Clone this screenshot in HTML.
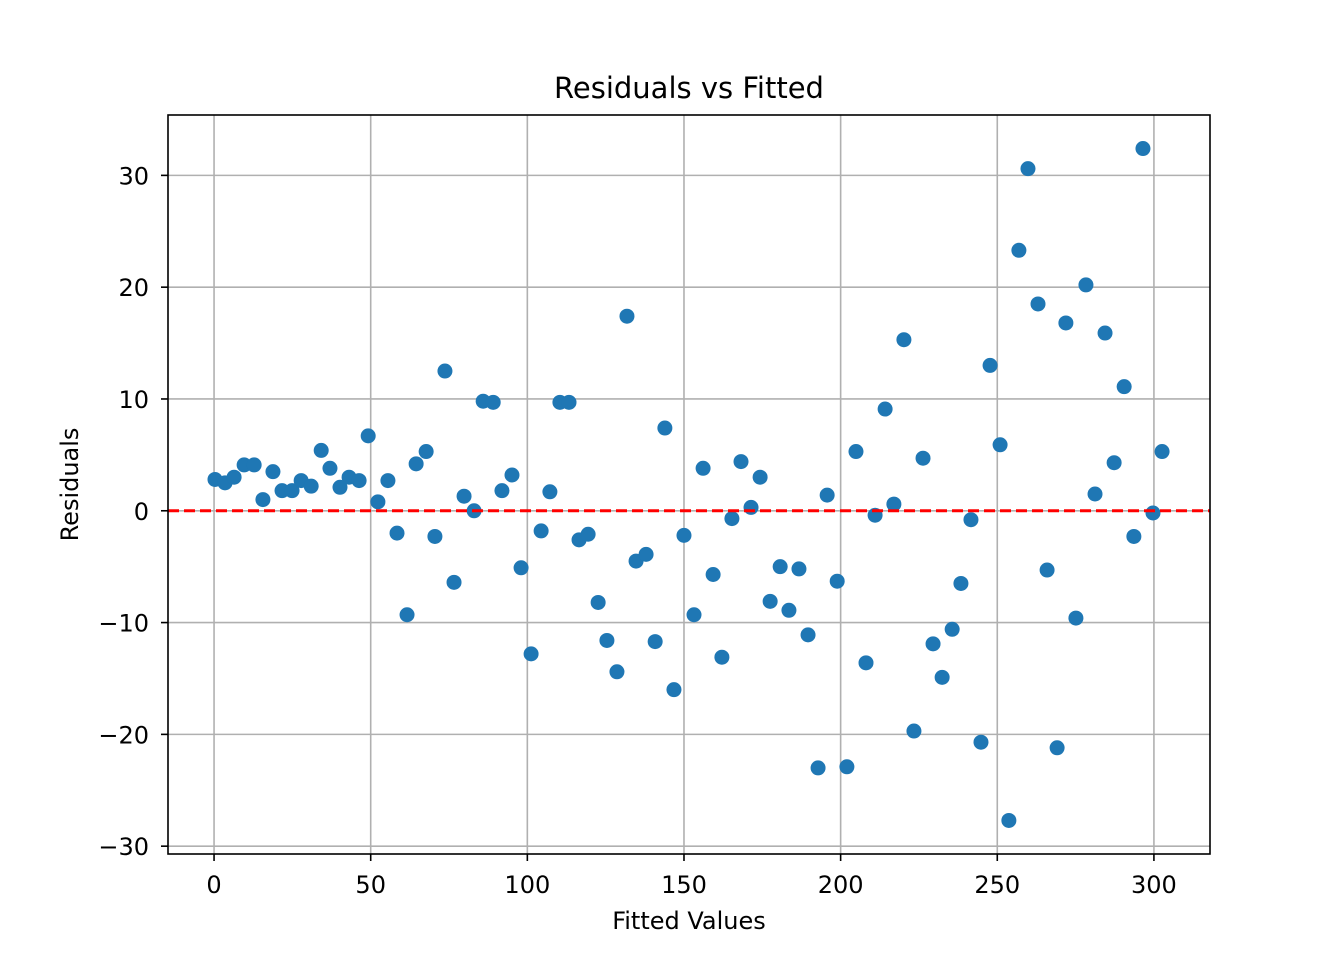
<!DOCTYPE html>
<html><head><meta charset="utf-8"><style>body{margin:0;background:#fff}svg{display:block;font-family:"DejaVu Sans","Liberation Sans",sans-serif}</style></head>
<body>
<svg id="chart" width="1344" height="960" xmlns="http://www.w3.org/2000/svg"></svg>
<script>
const fitted=[0.3,3.5,6.4,9.6,12.8,15.6,18.8,21.7,24.9,27.8,31.0,34.2,37.0,40.2,43.1,46.3,49.2,52.3,55.5,58.4,61.6,64.5,67.7,70.5,73.7,76.6,79.8,83.0,85.9,89.1,91.9,95.1,98.0,101.2,104.4,107.2,110.4,113.3,116.5,119.4,122.6,125.4,128.6,131.8,134.7,137.9,140.8,143.9,146.8,150.0,153.2,156.1,159.3,162.1,165.3,168.2,171.4,174.3,177.5,180.7,183.5,186.7,189.6,192.8,195.7,198.9,202.0,204.9,208.1,211.0,214.2,217.0,220.2,223.4,226.3,229.5,232.4,235.6,238.4,241.6,244.8,247.7,250.9,253.7,256.9,259.8,263.0,265.9,269.1,271.9,275.1,278.3,281.2,284.4,287.3,290.5,293.6,296.5,299.7,302.6];
const residuals=[2.8,2.5,3.0,4.1,4.1,1.0,3.5,1.8,1.8,2.7,2.2,5.4,3.8,2.1,3.0,2.7,6.7,0.8,2.7,-2.0,-9.3,4.2,5.3,-2.3,12.5,-6.4,1.3,0,9.8,9.7,1.8,3.2,-5.1,-12.8,-1.8,1.7,9.7,9.7,-2.6,-2.1,-8.2,-11.6,-14.4,17.4,-4.5,-3.9,-11.7,7.4,-16.0,-2.2,-9.3,3.8,-5.7,-13.1,-0.7,4.4,0.3,3.0,-8.1,-5.0,-8.9,-5.2,-11.1,-23.0,1.4,-6.3,-22.9,5.3,-13.6,-0.4,9.1,0.6,15.3,-19.7,4.7,-11.9,-14.9,-10.6,-6.5,-0.8,-20.7,13.0,5.9,-27.7,23.3,30.6,18.5,-5.3,-21.2,16.8,-9.6,20.2,1.5,15.9,4.3,11.1,-2.3,32.4,-0.2,5.3];
const xTicks=[0,50,100,150,200,250,300];
const yTicks=[-30,-20,-10,0,10,20,30];
const yTickLabels=["\u221230","\u221220","\u221210","0","10","20","30"];
const L=168,R=1210,T=115,B=854;
const xMin=-14.7,xMax=317.9,yMin=-30.7,yMax=35.4;
const sx=v=>L+(v-xMin)/(xMax-xMin)*(R-L);
const sy=v=>B-(v-yMin)/(yMax-yMin)*(B-T);
const svg=document.getElementById('chart');
const NS='http://www.w3.org/2000/svg';
function mk(tag,attrs,parent){const e=document.createElementNS(NS,tag);for(const k in attrs)e.setAttribute(k,attrs[k]);(parent||svg).appendChild(e);return e;}
const grid=mk('g',{});


xTicks.forEach(t=>{
  const x=sx(t);
  const g=mk('line',{x1:x,x2:x,y1:T,y2:B,stroke:'#b0b0b0','stroke-width':1.6},grid);
  
  
  const tk=mk('line',{x1:x,x2:x,y1:B,y2:B+7,stroke:'#000','stroke-width':1.6});
  
  
  const tx=mk('text',{x:x,y:893,'text-anchor':'middle','font-size':24});
  tx.textContent=t;
  
  
});
yTicks.forEach((t,i)=>{
  const y=sy(t);
  const g=mk('line',{x1:L,x2:R,y1:y,y2:y,stroke:'#b0b0b0','stroke-width':1.6},grid);
  
  
  const tk=mk('line',{x1:L-7,x2:L,y1:y,y2:y,stroke:'#000','stroke-width':1.6});
  
  
  const tx=mk('text',{x:149,y:y+9,'text-anchor':'end','font-size':24});
  tx.textContent=yTickLabels[i];
  
  
});
const pts=mk('g',{});


fitted.forEach((f,i)=>{
  const c=mk('circle',{cx:sx(f),cy:sy(residuals[i]),r:7.5,fill:'#1f77b4'},pts);
  
  
});
const zl=mk('line',{x1:L,x2:R,y1:sy(0),y2:sy(0),stroke:'#ff0000','stroke-width':3,'stroke-dasharray':'11,5'});


const fr=mk('rect',{x:L,y:T,width:R-L,height:B-T,fill:'none',stroke:'#000','stroke-width':1.6});


const ti=mk('text',{x:(L+R)/2,y:98,'text-anchor':'middle','font-size':29});
ti.textContent='Residuals vs Fitted';


const xl=mk('text',{x:(L+R)/2,y:929,'text-anchor':'middle','font-size':24});
xl.textContent='Fitted Values';


const yl=mk('text',{x:0,y:0,'text-anchor':'middle','font-size':24,transform:'translate(78,'+((T+B)/2)+') rotate(-90)'});
yl.textContent='Residuals';


</script>
</body></html>
